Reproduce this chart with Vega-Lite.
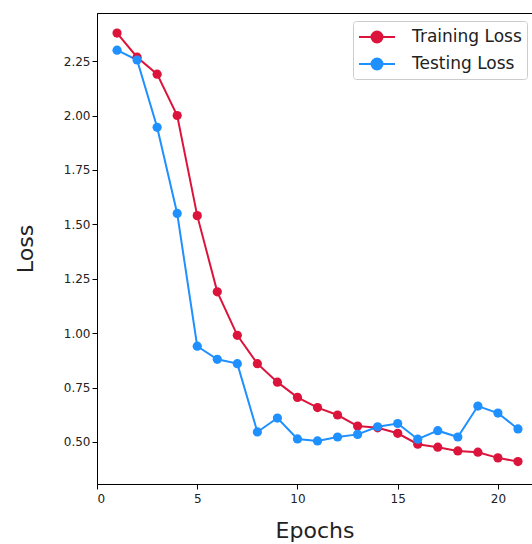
{
  "$schema": "https://vega.github.io/schema/vega-lite/v6.json",
  "width": 435,
  "height": 471,
  "autosize": "none",
  "padding": {"left": 97, "top": 13, "right": 0, "bottom": 60},
  "background": "white",
  "config": {
    "font": "DejaVu Sans",
    "view": {"stroke": "black", "strokeWidth": 1},
    "axis": {
      "grid": false,
      "domainColor": "black",
      "tickColor": "black",
      "tickSize": 5,
      "labelFontSize": 12,
      "labelColor": "#222",
      "titleFontSize": 22,
      "titleFontWeight": "normal",
      "titleColor": "#222"
    }
  },
  "data": {
    "values": [
      {"epoch": 1, "loss": 2.379, "series": "Training Loss"},
      {"epoch": 2, "loss": 2.268, "series": "Training Loss"},
      {"epoch": 3, "loss": 2.19, "series": "Training Loss"},
      {"epoch": 4, "loss": 2.0, "series": "Training Loss"},
      {"epoch": 5, "loss": 1.54, "series": "Training Loss"},
      {"epoch": 6, "loss": 1.19, "series": "Training Loss"},
      {"epoch": 7, "loss": 0.99, "series": "Training Loss"},
      {"epoch": 8, "loss": 0.86, "series": "Training Loss"},
      {"epoch": 9, "loss": 0.775, "series": "Training Loss"},
      {"epoch": 10, "loss": 0.705, "series": "Training Loss"},
      {"epoch": 11, "loss": 0.658, "series": "Training Loss"},
      {"epoch": 12, "loss": 0.624, "series": "Training Loss"},
      {"epoch": 13, "loss": 0.573, "series": "Training Loss"},
      {"epoch": 14, "loss": 0.565, "series": "Training Loss"},
      {"epoch": 15, "loss": 0.54, "series": "Training Loss"},
      {"epoch": 16, "loss": 0.49, "series": "Training Loss"},
      {"epoch": 17, "loss": 0.476, "series": "Training Loss"},
      {"epoch": 18, "loss": 0.459, "series": "Training Loss"},
      {"epoch": 19, "loss": 0.453, "series": "Training Loss"},
      {"epoch": 20, "loss": 0.427, "series": "Training Loss"},
      {"epoch": 21, "loss": 0.41, "series": "Training Loss"},
      {"epoch": 1, "loss": 2.3, "series": "Testing Loss"},
      {"epoch": 2, "loss": 2.255, "series": "Testing Loss"},
      {"epoch": 3, "loss": 1.946, "series": "Testing Loss"},
      {"epoch": 4, "loss": 1.55, "series": "Testing Loss"},
      {"epoch": 5, "loss": 0.94, "series": "Testing Loss"},
      {"epoch": 6, "loss": 0.88, "series": "Testing Loss"},
      {"epoch": 7, "loss": 0.86, "series": "Testing Loss"},
      {"epoch": 8, "loss": 0.546, "series": "Testing Loss"},
      {"epoch": 9, "loss": 0.61, "series": "Testing Loss"},
      {"epoch": 10, "loss": 0.514, "series": "Testing Loss"},
      {"epoch": 11, "loss": 0.505, "series": "Testing Loss"},
      {"epoch": 12, "loss": 0.523, "series": "Testing Loss"},
      {"epoch": 13, "loss": 0.535, "series": "Testing Loss"},
      {"epoch": 14, "loss": 0.57, "series": "Testing Loss"},
      {"epoch": 15, "loss": 0.585, "series": "Testing Loss"},
      {"epoch": 16, "loss": 0.513, "series": "Testing Loss"},
      {"epoch": 17, "loss": 0.552, "series": "Testing Loss"},
      {"epoch": 18, "loss": 0.523, "series": "Testing Loss"},
      {"epoch": 19, "loss": 0.665, "series": "Testing Loss"},
      {"epoch": 20, "loss": 0.633, "series": "Testing Loss"},
      {"epoch": 21, "loss": 0.56, "series": "Testing Loss"}
    ]
  },
  "mark": {"type": "line", "strokeWidth": 2, "point": {"filled": true, "size": 85, "opacity": 1}},
  "encoding": {
    "x": {
      "field": "epoch",
      "type": "quantitative",
      "title": "Epochs",
      "scale": {"domain": [0, 21.7], "nice": false, "zero": false},
      "axis": {"values": [0, 5, 10, 15, 20], "format": "d", "labelPadding": 4, "titlePadding": 16}
    },
    "y": {
      "field": "loss",
      "type": "quantitative",
      "title": "Loss",
      "scale": {"domain": [0.307, 2.471], "nice": false, "zero": false},
      "axis": {"values": [0.5, 0.75, 1.0, 1.25, 1.5, 1.75, 2.0, 2.25], "format": ".2f", "titlePadding": 26}
    },
    "color": {
      "field": "series",
      "type": "nominal",
      "sort": ["Training Loss", "Testing Loss"],
      "scale": {"domain": ["Training Loss", "Testing Loss"], "range": ["#DC143C", "#1E90FF"]},
      "legend": {
        "title": null,
        "orient": "none",
        "legendX": 256,
        "legendY": 8,
        "padding": 5,
        "strokeColor": "#cccccc",
        "cornerRadius": 3,
        "fillColor": "white",
        "labelFontSize": 17,
        "labelColor": "#222",
        "rowPadding": 6,
        "labelOffset": 32,
        "symbolType": "M-1,0L2.6,0M0.25,0A0.55,0.55 0 1 1 1.35,0A0.55,0.55 0 1 1 0.25,0",
        "symbolSize": 400,
        "symbolStrokeWidth": 2,
        "encode": {
          "symbols": {
            "update": {
              "fill": {"scale": "color", "field": "value"},
              "stroke": {"scale": "color", "field": "value"},
              "opacity": {"value": 1}
            }
          }
        }
      }
    }
  }
}
